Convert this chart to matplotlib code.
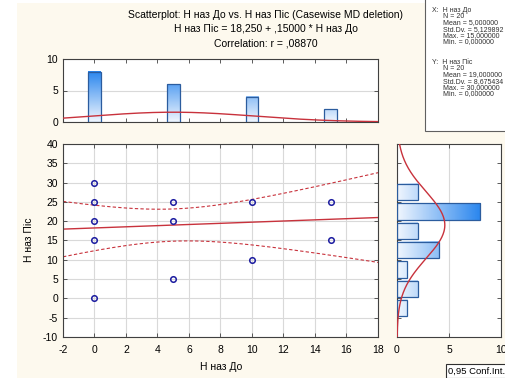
import numpy as np
import matplotlib.pyplot as plt
from matplotlib.patches import Rectangle
from matplotlib.colors import LinearSegmentedColormap

plt.rcParams['font.family'] = ['Liberation Sans', 'DejaVu Sans']
plt.rcParams['axes.unicode_minus'] = False

# raw cases (N = 20), duplicates overlap in the scatter
h_do = [0, 0, 0, 0, 0, 0, 0, 0, 5, 5, 5, 5, 5, 5, 10, 10, 10, 10, 15, 15]
h_pis = [30, 30, 25, 20, 15, 15, 15, 0, 25, 25, 25, 20, 5, 5, 25, 25, 25, 10, 25, 15]

# marginal histograms
x_centers = [0, 5, 10, 15]
x_counts = [8, 6, 4, 2]
y_low_edges = [-5, 0, 5, 10, 15, 20, 25]
y_counts = [1, 2, 1, 4, 2, 8, 2]

title_lines = ["Scatterplot: Н наз До vs. Н наз Піс (Casewise MD deletion)",
               "Н наз Піс = 18,250 + ,15000 * Н наз До",
               "Correlation: r = ,08870"]
stats_x = ["X:  Н наз До", "N = 20", "Mean = 5,000000", "Std.Dv. = 5,129892",
           "Max. = 15,000000", "Min. = 0,000000"]
stats_y = ["Y:  Н наз Піс", "N = 20", "Mean = 19,000000", "Std.Dv. = 8,675434",
           "Max. = 30,000000", "Min. = 0,000000"]

t_crit = 2.1009  # t(0.975, df=18)

W, H = 506, 378
fig = plt.figure(figsize=(W / 100, H / 100), dpi=100, facecolor='white')

def fx(px):
    return px / W

def fy(py):
    return 1 - py / H

# cream panel and white stats box
fig.patches.append(Rectangle((fx(17), 0), 1 - fx(17), fy(3), transform=fig.transFigure,
                             facecolor='#fdf9ee', edgecolor='none', zorder=-10))
fig.patches.append(Rectangle((fx(425), fy(131)), 1 - fx(425), 1 - fy(131) + 0.01,
                             transform=fig.transFigure, facecolor='white',
                             edgecolor='#606060', linewidth=0.8, zorder=-9))

red = '#c8323c'
edge_blue = '#2b5c9e'
cmap = LinearSegmentedColormap.from_list('bars', ['#f0f6fe', '#2a86ee'])
spine_c = '#404040'

def style(ax):
    for s in ax.spines.values():
        s.set_color(spine_c)
        s.set_linewidth(0.8)
    ax.set_facecolor('white')
    ax.tick_params(direction='in', length=3, width=0.6, labelsize=7.5,
                   top=True, right=True, color=spine_c)

# main scatter
ax = fig.add_axes([fx(63), fy(337), fx(378) - fx(63), fy(144) - fy(337)])
style(ax)
ax.set_xlim(-2, 18)
ax.set_ylim(-10, 40)
ax.set_xticks(np.arange(-2, 19, 2))
ax.set_yticks(np.arange(-10, 41, 5))
ax.grid(True, color='#d9d9d9', linewidth=0.8)
ax.set_axisbelow(True)
ax.tick_params(axis='x', pad=6)

xd = np.array(h_do, dtype=float)
yd = np.array(h_pis, dtype=float)
slope, intercept = np.polyfit(xd, yd, 1)
n = len(xd)
resid = yd - (intercept + slope * xd)
s = np.sqrt(np.sum(resid ** 2) / (n - 2))
sxx = np.sum((xd - xd.mean()) ** 2)
xs = np.linspace(-2, 18, 200)
fit = intercept + slope * xs
half = t_crit * s * np.sqrt(1 / n + (xs - xd.mean()) ** 2 / sxx)
ax.plot(xs, fit, color=red, lw=1.0)
ax.plot(xs, fit + half, color=red, lw=0.8, ls=(0, (3, 2)))
ax.plot(xs, fit - half, color=red, lw=0.8, ls=(0, (3, 2)))
# unique points only, so duplicates don't thicken the markers
pts = sorted(set(zip(h_do, h_pis)))
ax.plot([p[0] for p in pts], [p[1] for p in pts], 'o', ms=4, mfc='none',
        mec='#1c1ca0', mew=1.1, zorder=5)

# top histogram
axt = fig.add_axes([fx(63), fy(122), fx(378) - fx(63), fy(59) - fy(122)])
style(axt)
axt.set_xlim(-2, 18)
axt.set_ylim(0, 10)
axt.set_xticks(np.arange(0, 17, 2))
axt.set_yticks([0, 5, 10])
axt.tick_params(axis='x', labelbottom=False)
axt.yaxis.grid(True, color='#d9d9d9', linewidth=0.8)
axt.set_axisbelow(True)
bw = 0.8
vmax = max(x_counts)
for c, h in zip(x_centers, x_counts):
    grad = np.linspace(0, h / vmax, 100).reshape(-1, 1)
    axt.imshow(grad, cmap=cmap, vmin=0, vmax=1, origin='lower', aspect='auto',
               extent=[c - bw / 2, c + bw / 2, 0, h], zorder=2)
axt.bar(x_centers, x_counts, width=bw, facecolor='none', edgecolor=edge_blue,
        linewidth=0.9, zorder=3)
mx, sx = xd.mean(), xd.std(ddof=1)
xc = np.linspace(-2, 18, 200)
axt.plot(xc, n * np.exp(-0.5 * ((xc - mx) / sx) ** 2) / (sx * np.sqrt(2 * np.pi)),
         color=red, lw=1.0, zorder=4)
axt.set_xlim(-2, 18)
axt.set_ylim(0, 10)

# right histogram
axr = fig.add_axes([fx(397), fy(337), fx(501) - fx(397), fy(144) - fy(337)])
style(axr)
axr.set_xlim(0, 10)
axr.set_ylim(-10, 40)
axr.set_xticks([0, 5, 10])
axr.set_yticks(np.arange(-10, 41, 5))
axr.tick_params(axis='y', labelleft=False)
axr.tick_params(axis='x', pad=6)
axr.xaxis.grid(True, color='#d9d9d9', linewidth=0.8)
axr.set_axisbelow(True)
ybw = 5
gap = 0.4
vmax = max(y_counts)
for lo, w in zip(y_low_edges, y_counts):
    grad = np.linspace(0, w / vmax, 100).reshape(1, -1)
    axr.imshow(grad, cmap=cmap, vmin=0, vmax=1, origin='lower', aspect='auto',
               extent=[0, w, lo + gap, lo + ybw - gap], zorder=2)
axr.barh([lo + ybw / 2 for lo in y_low_edges], y_counts, height=ybw - 2 * gap,
         facecolor='none', edgecolor=edge_blue, linewidth=0.9, zorder=3)
my, sy = yd.mean(), yd.std(ddof=1)
yc = np.linspace(-10, 40, 200)
axr.plot(n * ybw * np.exp(-0.5 * ((yc - my) / sy) ** 2) / (sy * np.sqrt(2 * np.pi)), yc,
         color=red, lw=1.0, zorder=4)
axr.set_xlim(0, 10)
axr.set_ylim(-10, 40)

# texts
for i, line in enumerate(title_lines):
    fig.text(fx(266), fy(15 + 14.5 * i), line, ha='center', va='center', fontsize=7.5)
fig.text(fx(221), fy(367), "Н наз До", ha='center', va='center', fontsize=7.5)
fig.text(fx(29), fy(240), "Н наз Піс", ha='center', va='center', rotation=90, fontsize=7.5)

for block, y0 in ((stats_x, 10), (stats_y, 62)):
    for i, line in enumerate(block):
        xpos = 432 if i == 0 else 443
        fig.text(fx(xpos), fy(y0 + 6.4 * i), line, ha='left', va='center',
                 fontsize=5.0, color='#303030')

fig.text(fx(448), fy(371), "0,95 Conf.Int.", ha='left', va='center', fontsize=6.8,
         bbox=dict(boxstyle='square,pad=0.25', facecolor='white', edgecolor='#303030',
                   linewidth=0.8))

fig.savefig('out.png', dpi=100, facecolor=fig.get_facecolor())
